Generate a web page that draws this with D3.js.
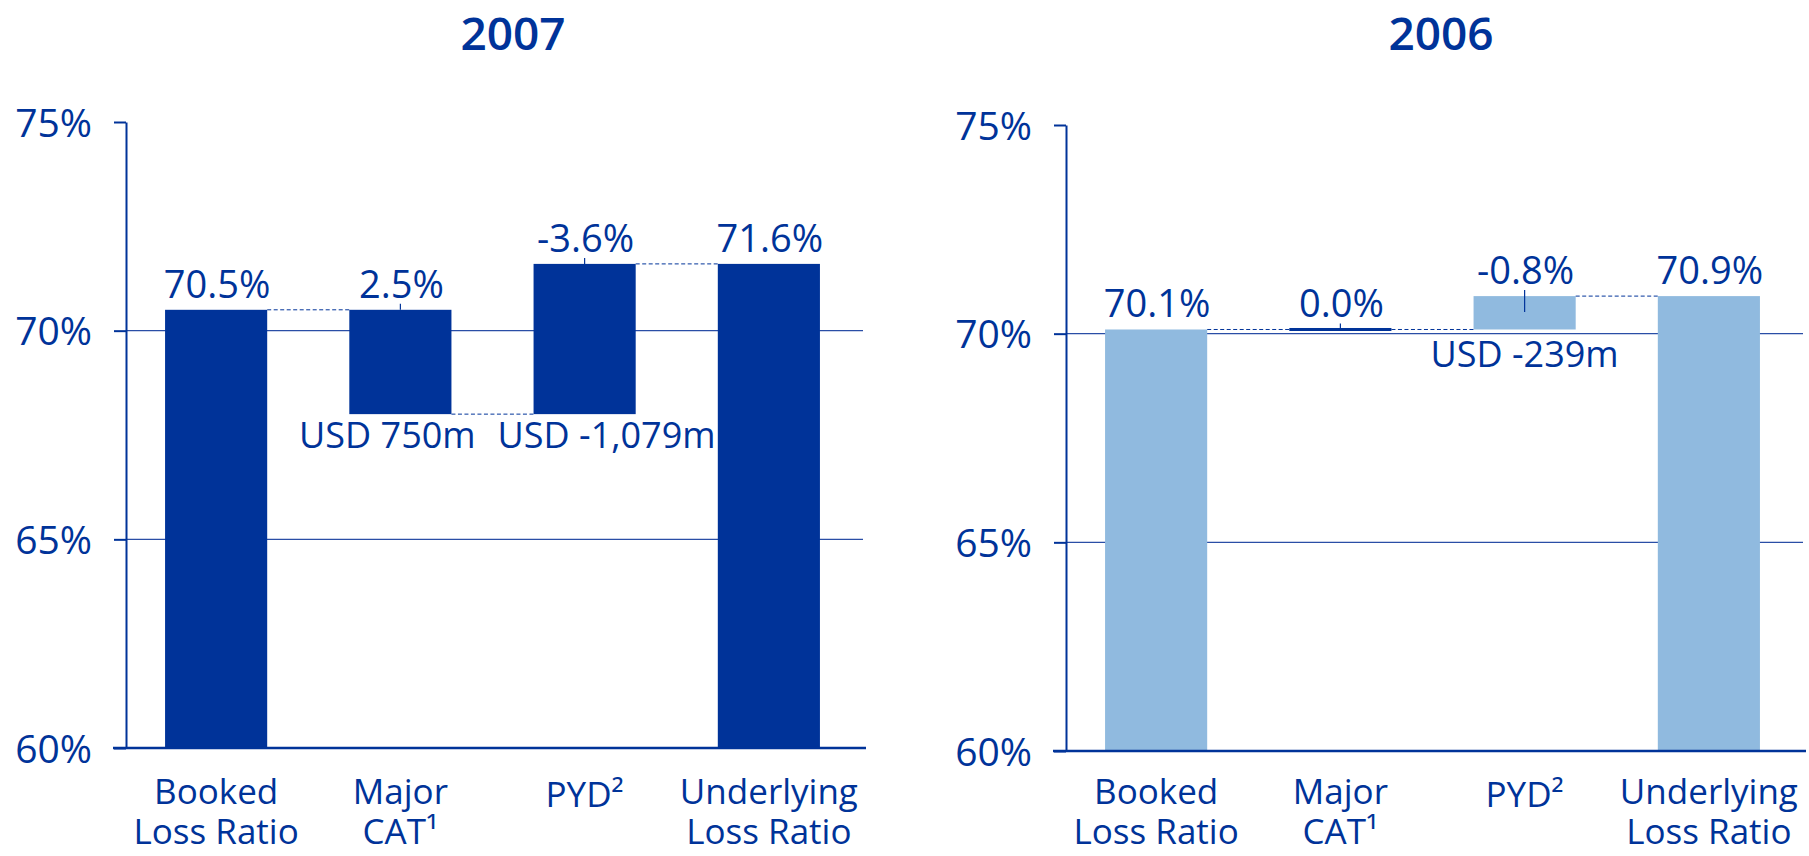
<!DOCTYPE html>
<html><head><meta charset="utf-8">
<script src="https://cdn.jsdelivr.net/npm/d3@7"></script>
<style>
body{margin:0;background:#fff}
svg{display:block}
text{font-family:"Open Sans","Noto Sans",sans-serif;fill:#003399}
</style>
</head><body>
<svg id="chart" width="1809" height="856"></svg>
<script>
// ---------- data ----------
const categories = [["Booked","Loss Ratio"],["Major","CAT\u00B9"],["PYD\u00B2"],["Underlying","Loss Ratio"]];
const kinds = ["total","change","change","total"];
const values2007 = [70.5, 2.5, -3.6, 71.6];
const values2006 = [70.1, 0.0, -0.8, 70.9];
const usd2007 = ["", "USD 750m", "USD -1,079m", ""];
const usd2006 = ["", "", "USD -239m", ""];
const yTicks = [60, 65, 70, 75];
const tickLabels = ["60%","65%","70%","75%"];
const gridTicks = [65, 70];

// ---------- layout ----------
const DARK = "#003399", LIGHT = "#90BADF", GRID = "#2a4ea6";
const panels = [
  {year:"2007", values:values2007, usd:usd2007, axisX:126, right:863, yBottom:748, yTop:122,
   titleX:513, fill:DARK, usdDx:[0,-13,22,0], usdDy:34, leaderBelow:[0,0,0,0]},
  {year:"2006", values:values2006, usd:usd2006, axisX:1066, right:1803, yBottom:751, yTop:125,
   titleX:1441, fill:LIGHT, usdDx:[0,0,0,0], usdDy:38, leaderBelow:[0,0,16,0]}
];

const svg = d3.select("#chart");

function steps(vals){
  let run = 0;
  return vals.map((v,i)=>{
    if(kinds[i]==="total"){ run = v; return {lo:60, hi:v, v, end:v, kind:"total"}; }
    const start = run; run = run - v;
    return {lo:Math.min(start,run), hi:Math.max(start,run), v, end:run, kind:"change"};
  });
}

panels.forEach(p=>{
  const g = svg.append("g");
  const y = d3.scaleLinear().domain([60,75]).range([p.yBottom, p.yTop]);
  const x = d3.scaleBand().domain(d3.range(categories.length))
      .range([p.axisX, p.axisX + 733]).paddingInner(0.4457).paddingOuter(0.212);
  const bw = x.bandwidth();
  const st = steps(p.values);

  // title
  g.append("text").attr("x", p.titleX).attr("y", 50).attr("text-anchor","middle")
    .style("font-size","46px").style("font-weight","600").text(p.year);

  // gridlines
  g.selectAll(".grid").data(gridTicks).enter().append("line")
    .attr("x1", p.axisX).attr("x2", p.right)
    .attr("y1", d=>y(d)).attr("y2", d=>y(d))
    .attr("stroke", GRID).attr("stroke-width", 1.3);

  // y axis
  const ax = g.append("g").attr("transform", `translate(${p.axisX},0)`)
    .call(d3.axisLeft(y).tickValues(yTicks).tickSize(12).tickSizeOuter(0).tickPadding(22)
      .tickFormat((d,i)=>tickLabels[i]));
  ax.select(".domain").attr("stroke", DARK).attr("stroke-width", 2);
  ax.selectAll(".tick line").attr("stroke", DARK).attr("stroke-width", 2);
  ax.selectAll(".tick text").attr("fill", DARK).attr("dy","0.36em")
    .style("font-size","39px").style("font-family","'Open Sans','Noto Sans',sans-serif");

  // bars
  st.forEach((s,i)=>{
    const h = y(s.lo) - y(s.hi);
    if(h < 1){
      g.append("rect").attr("x", x(i)).attr("width", bw)
        .attr("y", y(s.hi) - 1.5).attr("height", 3).attr("fill", DARK);
    } else {
      g.append("rect").attr("x", x(i)).attr("width", bw)
        .attr("y", y(s.hi)).attr("height", h).attr("fill", p.fill);
    }
  });

  // bottom axis line
  g.append("line").attr("x1", p.axisX - 13).attr("x2", p.right + 3)
    .attr("y1", y(60)).attr("y2", y(60)).attr("stroke", DARK).attr("stroke-width", 2.5);

  // dashed connectors
  st.slice(0,-1).forEach((s,i)=>{
    g.append("line").attr("x1", x(i)+bw).attr("x2", x(i+1))
      .attr("y1", y(s.end)).attr("y2", y(s.end))
      .attr("stroke", DARK).attr("stroke-width", 1).attr("stroke-dasharray","4,2.5");
  });

  // value labels + leaders
  st.forEach((s,i)=>{
    const cx = x(i) + bw/2;
    const top = y(s.hi);
    if(s.kind==="change"){
      g.append("line").attr("x1", cx).attr("x2", cx)
        .attr("y1", top - 6).attr("y2", top + p.leaderBelow[i])
        .attr("stroke", DARK).attr("stroke-width", 1.2);
    }
    g.append("text").attr("x", cx + 1).attr("y", top - 12).attr("text-anchor","middle")
      .style("font-size","38px").text(s.v.toFixed(1) + "%");
    if(p.usd[i]){
      g.append("text").attr("x", cx + p.usdDx[i]).attr("y", y(s.lo) + p.usdDy)
        .attr("text-anchor","middle").style("font-size","36px").text(p.usd[i]);
    }
  });

  // category labels (each line its own text element)
  categories.forEach((lines,i)=>{
    const cx = x(i) + bw/2;
    if(lines.length === 1){
      g.append("text").attr("x", cx).attr("y", 807).attr("text-anchor","middle")
        .style("font-size","35px").text(lines[0]);
    } else {
      lines.forEach((ln,j)=>{
        g.append("text").attr("x", cx).attr("y", 804 + j*40).attr("text-anchor","middle")
          .style("font-size","35px").text(ln);
      });
    }
  });
});
</script>
</body></html>
